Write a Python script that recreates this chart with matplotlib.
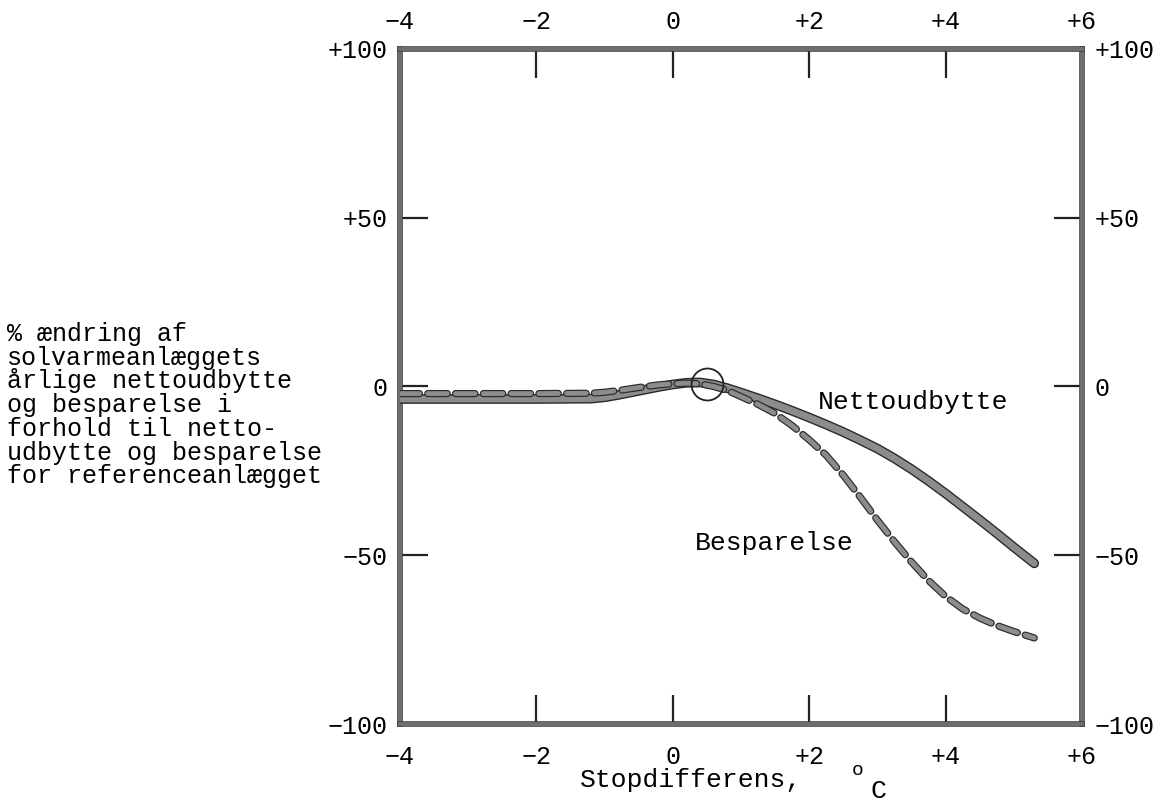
import matplotlib
matplotlib.use("Agg")
import matplotlib.pyplot as plt
import matplotlib.patheffects as pe

# Data
stopdiff = [-4.0, -3.0, -2.0, -1.2, -1.0, -0.8, -0.6, -0.4, -0.2, 0.0,
            0.2, 0.4, 0.6, 0.8, 1.0, 1.25, 1.5, 1.75, 2.0, 2.25,
            2.5, 2.75, 3.0, 3.25, 3.5, 3.75, 4.0, 4.25, 4.5, 4.75,
            5.0, 5.3]
nettoudbytte = [-3.7, -3.7, -3.7, -3.6, -3.2, -2.5, -1.7, -0.9, -0.1, 0.6,
                1.1, 1.2, 0.6, -0.5, -1.8, -3.5, -5.3, -7.2, -9.2, -11.3,
                -13.5, -15.9, -18.4, -21.3, -24.5, -28.0, -31.7, -35.6, -39.5, -43.5,
                -47.6, -52.4]
besparelse = [-2.1, -2.1, -2.1, -2.0, -1.7, -1.2, -0.6, 0.0, 0.5, 0.8,
              1.0, 0.8, 0.0, -1.2, -3.0, -5.3, -8.0, -11.6, -15.8, -20.4,
              -26.3, -32.8, -39.6, -46.0, -52.0, -57.5, -62.2, -65.9, -68.6, -70.8,
              -72.6, -74.5]
ref_point = (0.5, 0.8)

xticks = [-4, -2, 0, 2, 4, 6]
xticklabels = ["\u22124", "\u22122", "0", "+2", "+4", "+6"]
yticks = [100, 50, 0, -50, -100]
yticklabels = ["+100", "+50", "0", "\u221250", "\u2212100"]

ylabel_lines = ["% ændring af",
                "solvarmeanlæggets",
                "årlige nettoudbytte",
                "og besparelse i",
                "forhold til netto-",
                "udbytte og besparelse",
                "for referenceanlægget"]

plt.rcParams["font.family"] = ["Liberation Mono", "DejaVu Sans Mono"]
plt.rcParams["lines.scale_dashes"] = False

W, H = 1168, 805
fig = plt.figure(figsize=(W / 100, H / 100), dpi=100)
ax = fig.add_axes([400 / W, 1 - 724 / H, (1082 - 400) / W, (724 - 49) / H])

gray = "#8c8c8c"
edge = "#2a2a2a"

# solid curve (Nettoudbytte)
ax.plot(stopdiff, nettoudbytte, color=gray, lw=5, solid_capstyle="round",
        solid_joinstyle="round",
        path_effects=[pe.Stroke(linewidth=7, foreground=edge), pe.Normal()],
        zorder=3)
# dashed curve (Besparelse)
ax.plot(stopdiff, besparelse, color=gray, lw=3.5, dashes=(14, 6),
        dash_capstyle="round", dash_joinstyle="round",
        path_effects=[pe.Stroke(linewidth=5.2, foreground=edge), pe.Normal()],
        zorder=4)
# reference point circle
ax.plot([ref_point[0]], [ref_point[1]], marker="o", ms=23, mfc="none",
        mec="#222222", mew=1.3, zorder=5)

ax.text(2.13, -4.5, "Nettoudbytte", fontsize=19, ha="left", va="center")
ax.text(0.32, -46.4, "Besparelse", fontsize=19, ha="left", va="center")

ax.set_xlim(-4, 6)
ax.set_ylim(-100, 100)
ax.set_xticks(xticks)
ax.set_xticklabels(xticklabels)
ax.set_yticks(yticks)
ax.set_yticklabels(yticklabels)

ax.tick_params(axis="x", direction="in", length=21, width=1.6,
               color="#222222", top=False, bottom=True, labelsize=18, pad=15)
ax.tick_params(axis="y", direction="in", length=20, width=1.6,
               color="#222222", left=True, right=True, labelleft=True,
               labelright=True, labelsize=18, pad=9)

# top axis with its own (smaller) label pad
top = ax.secondary_xaxis("top")
top.set_xticks(xticks)
top.set_xticklabels(xticklabels)
top.tick_params(direction="in", length=21, width=1.6, color="#222222",
                labelsize=18, pad=11)
top.spines["top"].set_visible(False)

for sp in ax.spines.values():
    sp.set_color("#6e6e6e")
    sp.set_linewidth(3)
    sp.set_path_effects([pe.Stroke(linewidth=4, foreground="#3a3a3a"), pe.Normal()])

# left descriptive label, one line at a time
for i, line in enumerate(ylabel_lines):
    fig.text(7 / W, 1 - (341 + i * 23.7) / H, line, fontsize=18,
             ha="left", va="baseline")

# x axis label with raised "o" and lowered "C"
fig.text(580 / W, 1 - 787 / H, "Stopdifferens,", fontsize=19,
         ha="left", va="baseline")
fig.text(858 / W, 1 - 775 / H, "o", fontsize=14, ha="center", va="baseline")
fig.text(870 / W, 1 - 798 / H, "C", fontsize=19, ha="left", va="baseline")

fig.savefig("out.png", dpi=100)
